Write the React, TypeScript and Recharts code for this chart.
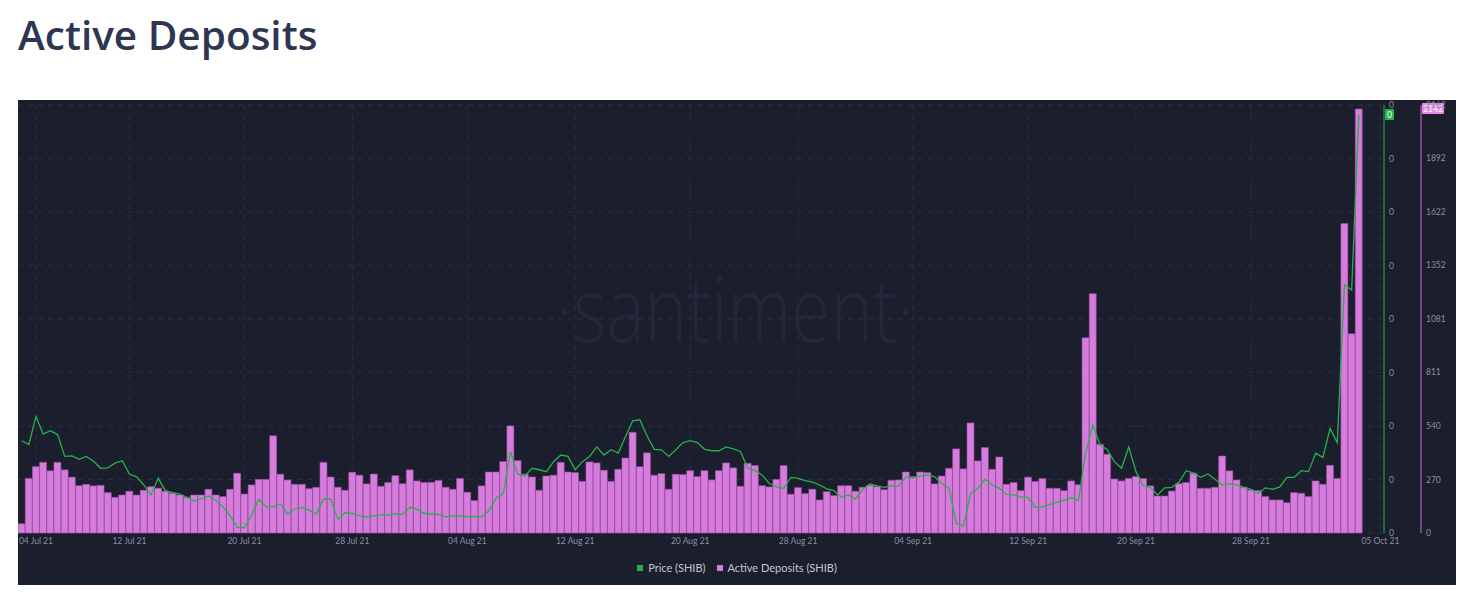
import React from 'react';
import {
  ComposedChart,
  Bar,
  Line,
  XAxis,
  YAxis,
  CartesianGrid,
  Legend,
  ReferenceLine,
} from 'recharts';

// 12h slots from 03 Jul 21; the last three slots (up to 05 Oct) have no data yet
const SLOT_COUNT = 190;

const deposits = [
  47, 276, 335, 357, 314, 357, 319, 282, 239, 246,
  238, 241, 204, 180, 192, 211, 192, 216, 234, 226,
  211, 201, 192, 180, 192, 192, 221, 192, 184, 221,
  302, 197, 243, 271, 271, 491, 297, 268, 246, 246,
  224, 231, 357, 283, 231, 216, 307, 292, 248, 298,
  236, 255, 290, 249, 319, 263, 255, 256, 265, 231,
  221, 276, 206,
  164, 238, 308, 308, 361, 541, 366, 297, 283, 216,
  288, 292, 357, 308, 305, 261, 359, 354, 317, 261,
  322, 379, 509, 335, 405, 292, 300, 221, 297, 295,
  315, 285, 315, 268, 315, 354, 329, 236, 352, 341,
  239, 233, 271, 341, 196, 229, 199, 221, 167, 209,
  189, 239, 239, 211, 231, 241, 234, 219, 266, 268,
  308, 285, 308,
  305, 248, 288, 327, 425, 324, 556, 364, 432, 322,
  384, 246, 255, 214, 282, 260, 275, 226, 226, 214,
  263, 244, 986, 1209, 448, 398, 273, 263, 276, 285,
  275, 238, 187, 187, 212, 249, 255, 302, 226, 226,
  231, 389, 314, 268, 231, 217, 214, 184, 167, 167,
  153, 204, 201, 184, 263, 246, 342, 276, 1563, 1006,
  2142,
];

// SHIB price, in millionths of a USD
const price = [
  6.94, 6.86, 7.45, 7.08, 7.15, 7.07, 6.61, 6.62, 6.55, 6.61,
  6.51, 6.36, 6.37, 6.47, 6.52, 6.24, 6.18, 6.01, 5.8, 6.15,
  5.89, 5.85, 5.82, 5.75, 5.67, 5.72, 5.78, 5.69, 5.55, 5.36,
  5.12, 5.11, 5.38, 5.71, 5.55, 5.55, 5.61, 5.4, 5.51, 5.54,
  5.48, 5.4, 5.71, 5.71, 5.29, 5.43, 5.41, 5.36, 5.34, 5.36,
  5.38, 5.38, 5.4, 5.39, 5.54, 5.5, 5.41, 5.4, 5.39, 5.34,
  5.36, 5.36, 5.34,
  5.35, 5.34, 5.47, 5.73, 5.83, 6.71, 6.24, 6.2, 6.36, 6.33,
  6.29, 6.5, 6.64, 6.61, 6.33, 6.5, 6.61, 6.81, 6.64, 6.75,
  6.68, 7.03, 7.36, 7.38, 7.04, 6.76, 6.75, 6.61, 6.75, 6.9,
  6.94, 6.9, 6.76, 6.73, 6.73, 6.81, 6.77, 6.71, 6.36, 6.31,
  6.22, 6.04, 5.97, 5.94, 6.17, 6.15, 6.1, 6.07, 6.01, 5.93,
  5.89, 5.75, 5.8, 5.71, 5.92, 6.03, 5.99, 5.96, 5.99, 5.99,
  6.18, 6.16, 6.2,
  6.22, 6.18, 6.04, 5.94, 5.2, 5.15, 5.83, 5.94, 6.13, 6.01,
  5.94, 5.81, 5.8, 5.76, 5.75, 5.54, 5.55, 5.6, 5.65, 5.69,
  5.74, 5.68, 6.68, 7.27, 6.85, 6.75, 6.5, 6.36, 6.81, 6.29,
  5.99, 5.96, 5.8, 5.95, 5.96, 6.07, 6.31, 6.26, 6.17, 6.24,
  6.13, 6.01, 6.04, 6.01, 5.96, 5.92, 5.83, 5.95, 5.92, 5.97,
  6.17, 6.17, 6.31, 6.29, 6.68, 6.59, 7.2, 6.9, 10.22, 10.11,
  13.79,
];

const tickSlots = [2, 15, 31, 46, 62, 77, 93, 108, 124, 140, 155, 171, 189];
const tickLabels = [
  '04 Jul 21', '12 Jul 21', '20 Jul 21', '28 Jul 21', '04 Aug 21', '12 Aug 21', '20 Aug 21',
  '28 Aug 21', '04 Sep 21', '12 Sep 21', '20 Sep 21', '28 Sep 21', '05 Oct 21',
];

const depositTicks = [0, 270, 540, 811, 1081, 1352, 1622, 1892, 2162];
const priceTicks = [5, 6.125, 7.25, 8.375, 9.5, 10.625, 11.75, 12.875, 14];

const GREEN = '#27b14b';
const PINK = '#d67cdc';
const BG = '#1b1e2d';

const data = Array.from({ length: SLOT_COUNT }, (_, i) => ({
  slot: i,
  deposits: deposits[i] ?? null,
  price: price[i] ?? null,
}));

const lastDeposit = deposits[deposits.length - 1];
const lastPrice = price[price.length - 1];

function Badge({ viewBox, dx, w, fill, text }: any) {
  const x = viewBox.x + viewBox.width + dx;
  const y = viewBox.y;
  return (
    <g>
      <rect x={x} y={y - 6} width={w} height={11} fill={fill} rx={1} />
      <text x={x + w / 2} y={y + 3} fontSize={8.5} fill="#fff" textAnchor="middle">
        {text}
      </text>
    </g>
  );
}

function LegendContent() {
  const items = [
    { name: 'Price (SHIB)', color: GREEN },
    { name: 'Active Deposits (SHIB)', color: PINK },
  ];
  return (
    <div style={{ display: 'flex', justifyContent: 'center', gap: 11, paddingTop: 6 }}>
      {items.map((it) => (
        <span key={it.name} style={{ display: 'flex', alignItems: 'center', fontSize: 11, color: '#c4c7d2' }}>
          <span style={{ width: 6, height: 6, background: it.color, marginRight: 5, display: 'inline-block' }} />
          {it.name}
        </span>
      ))}
    </div>
  );
}

export default function App() {
  const tickStyle = { fontSize: 8.5, fill: '#8a8fa0' };
  return (
    <div style={{ position: 'relative', width: 1458, height: 584, fontFamily: 'Lato, "Open Sans", sans-serif' }}>
      <div
        style={{
          position: 'absolute',
          left: 10,
          top: 7,
          fontSize: 40.5,
          lineHeight: '40px',
          fontWeight: 600,
          color: '#2f3652',
          fontFamily: '"Open Sans", sans-serif',
        }}
      >
        Active Deposits
      </div>
      <div style={{ position: 'absolute', left: 10, top: 92, width: 1438, height: 485, background: BG }}>
        <div
          style={{
            position: 'absolute',
            left: 417,
            top: 152,
            width: 600,
            textAlign: 'center',
            fontSize: 90,
            lineHeight: '110px',
            fontWeight: 300,
            color: '#23273a',
            fontFamily: '"Open Sans", sans-serif',
            transform: 'scaleX(0.8)',
          }}
        >
          ·santiment·
        </div>
        <ComposedChart
          width={1438}
          height={485}
          data={data}
          margin={{ top: 5, right: 0, bottom: 0, left: 0 }}
          barCategoryGap={0}
          style={{ position: 'relative' }}
        >
          <CartesianGrid yAxisId="b" stroke="#2a2f43" strokeDasharray="5 5" />
          <XAxis
            dataKey="slot"
            type="category"
            ticks={tickSlots}
            interval={0}
            tickFormatter={(v) => tickLabels[tickSlots.indexOf(v)]}
            axisLine={false}
            tickLine={false}
            tickSize={0}
            tickMargin={5}
            height={22}
            tick={tickStyle}
          />
          <YAxis
            yAxisId="a"
            orientation="right"
            width={37}
            domain={[5, 14]}
            ticks={priceTicks}
            tickFormatter={() => '0'}
            axisLine={{ stroke: '#23803f', strokeWidth: 1.5 }}
            tickLine={false}
            tickSize={0}
            tickMargin={5}
            tick={tickStyle}
          />
          <YAxis
            yAxisId="b"
            orientation="right"
            width={35}
            domain={[0, 2162]}
            ticks={depositTicks}
            axisLine={{ stroke: '#9b4fa3', strokeWidth: 1.5 }}
            tickLine={false}
            tickSize={0}
            tickMargin={5}
            tick={tickStyle}
          />
          <Legend verticalAlign="bottom" height={30} content={<LegendContent />} />
          <Bar
            yAxisId="b"
            dataKey="deposits"
            name="Active Deposits (SHIB)"
            fill={PINK}
            stroke="#9a4aa2"
            strokeWidth={0.6}
            isAnimationActive={false}
          />
          <Line
            yAxisId="a"
            dataKey="price"
            name="Price (SHIB)"
            type="linear"
            stroke={GREEN}
            strokeWidth={1.3}
            dot={false}
            isAnimationActive={false}
          />
          <ReferenceLine
            yAxisId="a"
            y={lastPrice}
            stroke="none"
            label={(p: any) => <Badge viewBox={p.viewBox} dx={1} w={9} fill={GREEN} text="0" />}
          />
          <ReferenceLine
            yAxisId="b"
            y={lastDeposit}
            stroke="none"
            label={(p: any) => <Badge viewBox={p.viewBox} dx={38} w={22} fill="#e889ea" text={String(lastDeposit)} />}
          />
        </ComposedChart>
      </div>
    </div>
  );
}
